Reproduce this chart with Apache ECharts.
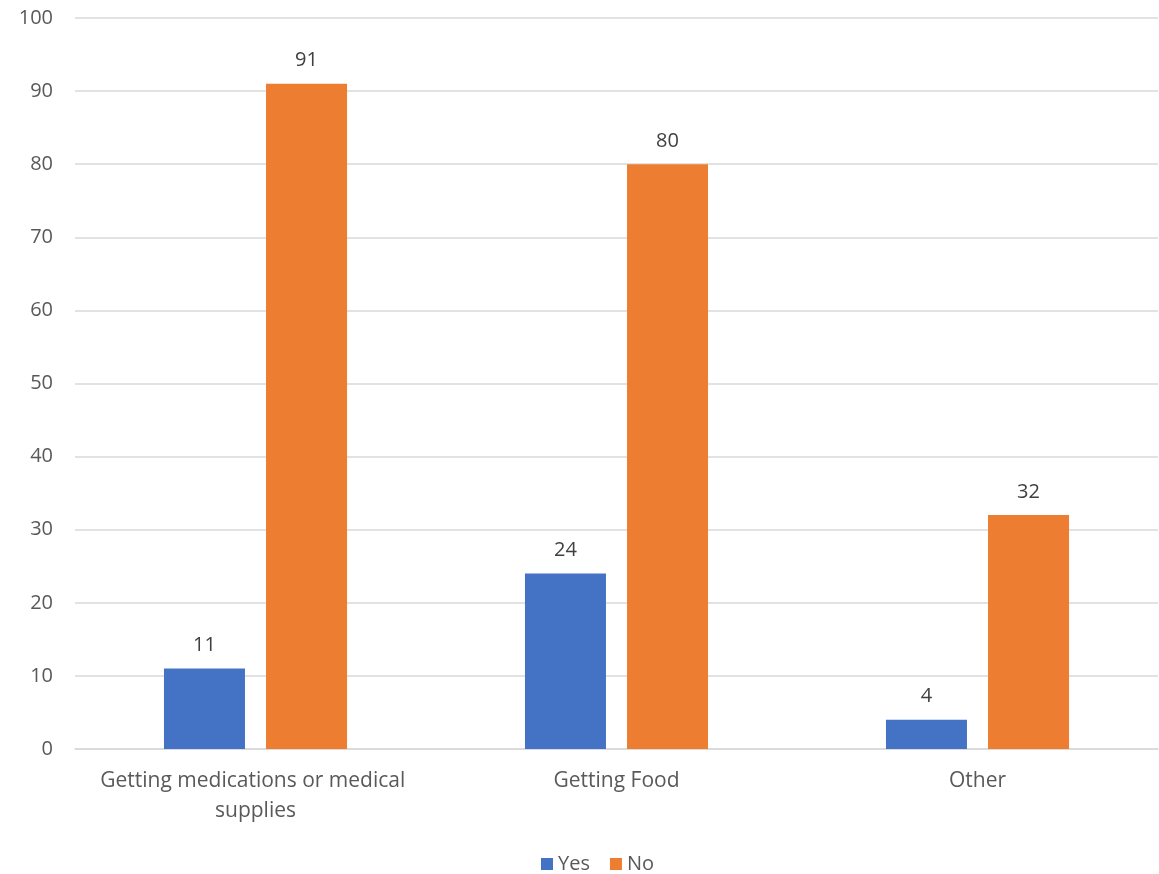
<!DOCTYPE html>
<html>
<head>
<meta charset="utf-8">
<script src="https://cdn.jsdelivr.net/npm/echarts@6/dist/echarts.min.js"></script>
<style>html,body{margin:0;padding:0;background:#fff}#c{width:1159px;height:874px}</style>
</head>
<body>
<div id="c"></div>
<script>
const categories = ["Getting medications or medical supplies", "Getting Food", "Other"];
const yesValues = [11, 24, 4];
const noValues = [91, 80, 32];
const seriesNames = ["Yes", "No"];

const font = "'Open Sans', 'Noto Sans', sans-serif";
const chart = echarts.init(document.getElementById('c'), null, {renderer: 'canvas'});
const labelStyle = {show: true, position: 'top', distance: 13, color: '#404040', fontSize: 20, fontFamily: font};
chart.setOption({
  animation: false,
  textStyle: {fontFamily: font},
  grid: {left: 75, right: 1, top: 18, bottom: 125, containLabel: false},
  legend: {
    data: seriesNames, top: 849, left: 536, itemWidth: 12, itemHeight: 12, itemGap: 20,
    icon: 'rect',
    textStyle: {color: '#595959', fontSize: 20, fontFamily: font}
  },
  xAxis: {
    type: 'category', data: categories,
    axisLine: {lineStyle: {color: '#d9d9d9', width: 1.5}},
    axisTick: {show: false},
    axisLabel: {interval: 0, color: '#595959', fontSize: 21, fontFamily: font, margin: 17,
      width: 330, overflow: 'break', lineHeight: 30}
  },
  yAxis: {
    type: 'value', min: 0, max: 100, interval: 10,
    axisLine: {show: false}, axisTick: {show: false},
    splitLine: {lineStyle: {color: '#d9d9d9', width: 1.5}},
    axisLabel: {color: '#595959', fontSize: 20, fontFamily: font, margin: 22}
  },
  series: [
    {name: seriesNames[0], type: 'bar', data: yesValues, barWidth: 81, barGap: '26%',
      itemStyle: {color: '#4472c4'}, label: labelStyle},
    {name: seriesNames[1], type: 'bar', data: noValues, barWidth: 81, barGap: '26%',
      itemStyle: {color: '#ed7d31'}, label: labelStyle}
  ]
});
</script>
</body>
</html>
